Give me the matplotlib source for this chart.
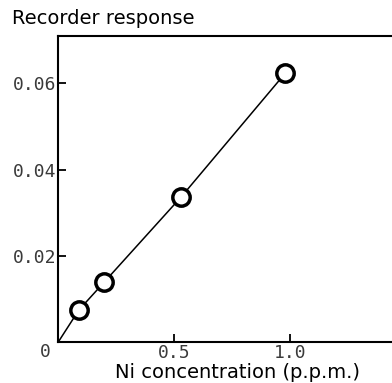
import numpy as np
import matplotlib.pyplot as plt

# Data
conc = [0.09, 0.20, 0.53, 0.98]
resp = [0.0075, 0.0140, 0.0336, 0.0623]
xticks = [0.5, 1.0]
xticklabels = ['0.5', '1.0']
yticks = [0.02, 0.04, 0.06]
yticklabels = ['0.02', '0.04', '0.06']

fig = plt.figure(figsize=(3.92, 3.83), dpi=100)
ax = fig.add_axes([0.148, 0.106, 0.852, 0.8])
ax.set_xlim(0, 1.44)
ax.set_ylim(0, 0.0709)

# fitted line through origin up to last point
ax.plot([0] + conc, [0] + resp, color='black', lw=1.1, zorder=2)
ax.plot(conc, resp, 'o', ms=12.5, mfc='white', mec='black', mew=2.5, zorder=3)

ax.spines['right'].set_visible(False)
for s in ['left', 'bottom', 'top']:
    ax.spines[s].set_linewidth(1.5)

ax.set_xticks(xticks)
ax.set_xticklabels(xticklabels)
ax.set_yticks(yticks)
ax.set_yticklabels(yticklabels)
ax.tick_params(direction='in', length=6, width=1.3, labelsize=13, colors='black')
ax.tick_params(axis='x', pad=1)
ax.tick_params(axis='y', pad=1)
for lab in ax.get_xticklabels() + ax.get_yticklabels():
    lab.set_family('DejaVu Sans Mono')
    lab.set_color('#3a3a3a')

fig.text(0.115, 0.082, '0', fontsize=13, family='DejaVu Sans Mono', color='#3a3a3a',
         ha='center', va='center')
fig.text(0.03, 0.953, 'Recorder response', fontsize=14, ha='left', va='center')
fig.text(0.607, 0.028, 'Ni concentration (p.p.m.)', fontsize=14, ha='center', va='center')

fig.savefig('out.png', dpi=100)
